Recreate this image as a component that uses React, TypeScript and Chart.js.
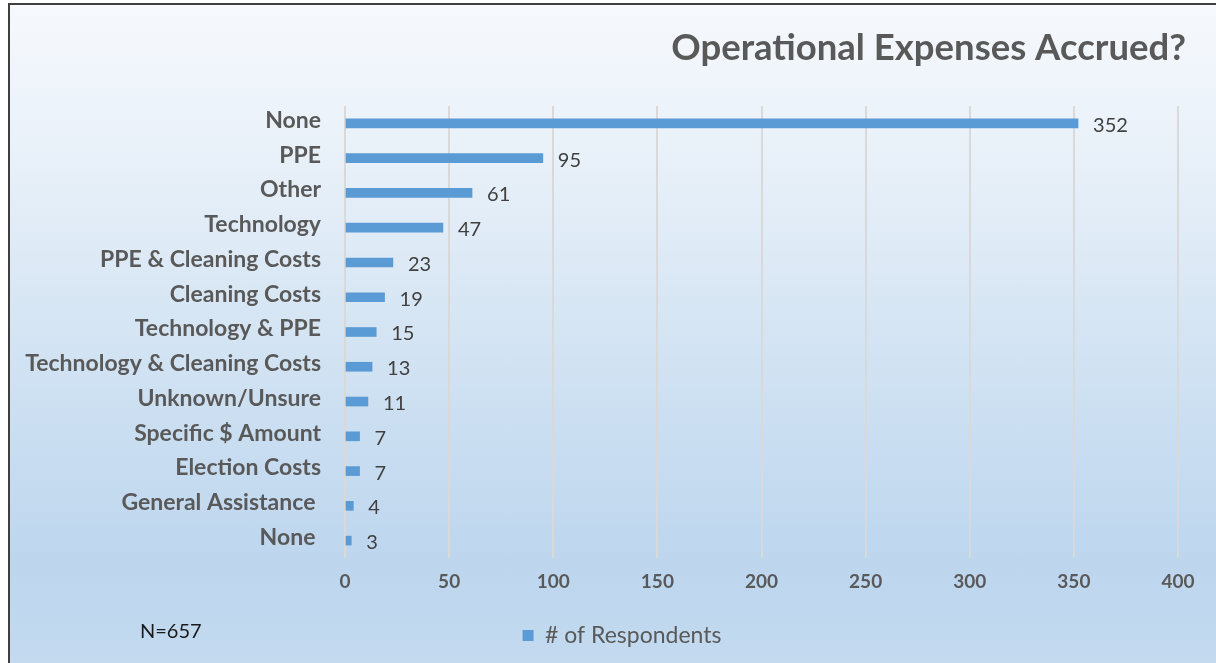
import React, { useEffect, useRef } from "react";
import { Chart, registerables } from "chart.js";

Chart.register(...registerables);

const categories = [
  "None",
  "PPE",
  "Other",
  "Technology",
  "PPE & Cleaning Costs",
  "Cleaning Costs",
  "Technology & PPE",
  "Technology & Cleaning Costs",
  "Unknown/Unsure",
  "Specific $ Amount",
  "Election Costs",
  "General Assistance ",
  "None ",
];
const respondents = [352, 95, 61, 47, 23, 19, 15, 13, 11, 7, 7, 4, 3];
const seriesLabel = "# of Respondents";
const chartTitle = "Operational Expenses Accrued?";
const footnote = "N=657";
const xMin = 0;
const xMax = 400;
const xStep = 50;

const FONT = "Lato, 'Open Sans', sans-serif";
const LABEL_COLOR = "#595959";
const BAR_COLOR = "#5b9bd5";

export default function App() {
  const ref = useRef<HTMLCanvasElement | null>(null);

  useEffect(() => {
    if (!ref.current) return;

    const valueLabels = {
      id: "valueLabels",
      afterDatasetsDraw(chart: any) {
        const ctx = chart.ctx;
        ctx.save();
        ctx.font = `400 20px ${FONT}`;
        ctx.fillStyle = "#404040";
        ctx.textAlign = "left";
        ctx.textBaseline = "middle";
        chart.data.datasets.forEach((ds: any, di: number) => {
          const meta = chart.getDatasetMeta(di);
          meta.data.forEach((el: any, i: number) => {
            ctx.fillText(String(ds.data[i]), el.x + 15, el.y + 2);
          });
        });
        ctx.restore();
      },
    };

    const legendShift = {
      id: "legendShift",
      afterLayout(chart: any) {
        if (chart.legend) {
          chart.legend.left = 66;
        }
      },
    };

    const extraText = {
      id: "extraText",
      afterDraw(chart: any) {
        const ctx = chart.ctx;
        ctx.save();
        ctx.font = `700 36.5px ${FONT}`;
        ctx.fillStyle = LABEL_COLOR;
        ctx.textAlign = "right";
        ctx.textBaseline = "middle";
        ctx.fillText(chartTitle, 1186, 48);
        ctx.font = `400 20px ${FONT}`;
        ctx.fillStyle = "#1a1a1a";
        ctx.textAlign = "left";
        ctx.fillText(footnote, 140, 632);
        ctx.restore();
      },
    };

    const chart = new Chart(ref.current, {
      type: "bar",
      data: {
        labels: categories,
        datasets: [
          {
            label: seriesLabel,
            data: respondents,
            backgroundColor: BAR_COLOR,
            borderWidth: 0,
            barThickness: 9,
          },
        ],
      },
      options: {
        indexAxis: "y",
        responsive: false,
        animation: false,
        layout: { padding: { left: 0, right: 38, top: 106, bottom: 6 } },
        scales: {
          x: {
            min: xMin,
            max: xMax,
            ticks: {
              stepSize: xStep,
              color: LABEL_COLOR,
              font: { family: FONT, size: 19, weight: "bold" },
              padding: 12,
            },
            grid: { color: "#d9d9d9", lineWidth: 2, drawTicks: false },
            border: { display: false },
            afterFit(scale: any) {
              scale.height = 52;
            },
          },
          y: {
            ticks: {
              color: LABEL_COLOR,
              font: { family: FONT, size: 23, weight: "bold" },
              padding: 24,
              labelOffset: -3,
              autoSkip: false,
            },
            grid: { display: false, drawTicks: false },
            border: { display: false },
            afterFit(scale: any) {
              scale.width = 345;
            },
          },
        },
        plugins: {
          title: { display: false },
          tooltip: { enabled: false },
          legend: {
            display: true,
            position: "bottom",
            labels: {
              boxWidth: 11,
              boxHeight: 11,
              padding: 14,
              color: LABEL_COLOR,
              font: { family: FONT, size: 23 },
            },
          },
        },
      },
      plugins: [valueLabels, legendShift, extraText],
    } as any);

    return () => chart.destroy();
  }, []);

  return (
    <div
      style={{
        position: "fixed",
        left: 0,
        top: 0,
        width: 1216,
        height: 663,
        overflow: "hidden",
        background: "#ffffff",
      }}
    >
      <div
        style={{
          position: "absolute",
          left: 8,
          top: 3,
          width: 1240,
          height: 700,
          border: "2px solid #3f3f3f",
          boxSizing: "border-box",
          background:
            "linear-gradient(to bottom, #f6f9fd 0%, #e6eff8 25%, #d2e3f3 50%, #bdd6ee 80%, #c3daef 95%, #c9def1 100%)",
        }}
      />
      <canvas
        ref={ref}
        width={1216}
        height={663}
        style={{ position: "absolute", left: 0, top: 0, width: 1216, height: 663 }}
      />
    </div>
  );
}
